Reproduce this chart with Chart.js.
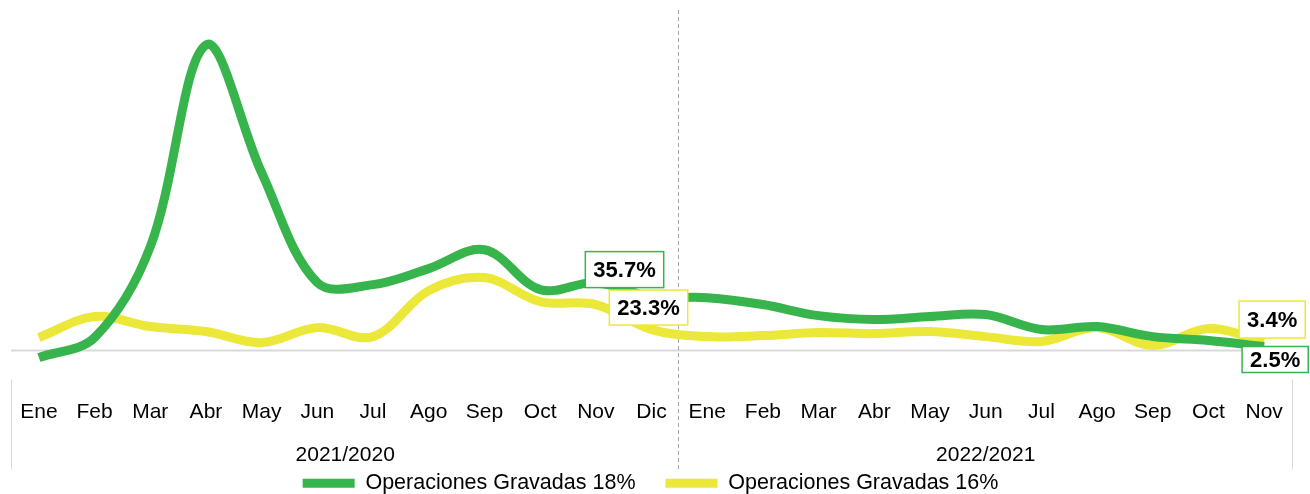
<!DOCTYPE html>
<html>
<head>
<meta charset="utf-8">
<script src="https://cdn.jsdelivr.net/npm/chart.js@4.4.1/dist/chart.umd.min.js"></script>
<style>
  html, body { margin: 0; padding: 0; background: #fff; }
  #wrap { width: 1310px; height: 494px; position: relative; }
</style>
</head>
<body>
<div id="wrap"><canvas id="chart"></canvas></div>
<script>
// --- Data ---
const months = ["Ene", "Feb", "Mar", "Abr", "May", "Jun", "Jul", "Ago", "Sep", "Oct", "Nov", "Dic",
                "Ene", "Feb", "Mar", "Abr", "May", "Jun", "Jul", "Ago", "Sep", "Oct", "Nov"];
const groupLabels = ["2021/2020", "2022/2021"];
const groupSizes = [12, 11];

const gravadas18 = [-4.7, 8.7, 69.3, 204, 118.7, 45.3, 44, 54.7, 67.3, 40.7, 45.3, 36,
                    35.3, 30.7, 23.3, 20.7, 22.7, 24, 14, 16, 9.3, 6.7, 2.7];
const gravadas16 = [8.7, 22.7, 16, 12.7, 5.3, 15.3, 9.3, 40, 48.7, 32.7, 30.7, 14,
                    9.3, 10, 12, 11.3, 12.7, 9.3, 6, 15.3, 3.3, 14.7, 6];

// value labels shown on the chart (only Dic and last month)
const labels18 = [null, null, null, null, null, null, null, null, null, null, null, "35.7%",
                  null, null, null, null, null, null, null, null, null, null, "2.5%"];
const labels16 = [null, null, null, null, null, null, null, null, null, null, null, "23.3%",
                  null, null, null, null, null, null, null, null, null, null, "3.4%"];

const GREEN = "#37b44b";
const YELLOW = "#ebe83a";
const FONT = "'Liberation Sans', Arial, sans-serif";

// label box placement relative to the point: dx, dy, box height
const labelOffsets = {
  0: { 11: [-27, -27, 36], 22: [11, 13, 26] },
  1: { 11: [-3, -22, 35], 22: [8, -22, 37] }
};

// --- Plugin: baseline, separators, group labels, value labels ---
const decorPlugin = {
  id: "decor",
  beforeDatasetsDraw(chart) {
    const { ctx, chartArea, scales } = chart;
    const x = scales.x, y = scales.y;
    const y0 = y.getPixelForValue(0);
    ctx.save();
    // zero line
    ctx.strokeStyle = "#d9d9d9";
    ctx.lineWidth = 2;
    ctx.beginPath();
    ctx.moveTo(chartArea.left, y0);
    ctx.lineTo(chartArea.right, y0);
    ctx.stroke();
    // outer separators
    const sepBottom = chartArea.bottom + 90;
    ctx.lineWidth = 1;
    ctx.strokeStyle = "#d9d9d9";
    [chartArea.left, chartArea.right].forEach(px => {
      ctx.beginPath();
      ctx.moveTo(px + 0.5, chartArea.bottom);
      ctx.lineTo(px + 0.5, sepBottom);
      ctx.stroke();
    });
    // dashed separator between groups
    let idx = 0;
    const mids = [];
    const step = x.width / months.length;
    groupSizes.forEach((n, g) => {
      const a = x.getPixelForValue(idx) - step / 2;
      const b = x.getPixelForValue(idx + n - 1) + step / 2;
      mids.push((a + b) / 2);
      idx += n;
      if (g < groupSizes.length - 1) {
        ctx.strokeStyle = "#a6a6a6";
        ctx.setLineDash([4, 3]);
        ctx.beginPath();
        ctx.moveTo(Math.round(b) - 0.5, chartArea.top);
        ctx.lineTo(Math.round(b) - 0.5, sepBottom);
        ctx.stroke();
        ctx.setLineDash([]);
      }
    });
    // group labels
    ctx.fillStyle = "#000";
    ctx.font = "21px " + FONT;
    ctx.textAlign = "center";
    ctx.textBaseline = "middle";
    groupLabels.forEach((t, i) => ctx.fillText(t, mids[i], chartArea.bottom + 76));
    ctx.restore();
  },
  afterDatasetsDraw(chart) {
    const { ctx } = chart;
    const sets = [labels18, labels16];
    ctx.save();
    ctx.font = "bold 22px " + FONT;
    ctx.textAlign = "center";
    ctx.textBaseline = "middle";
    sets.forEach((arr, di) => {
      const meta = chart.getDatasetMeta(di);
      const color = chart.data.datasets[di].borderColor;
      arr.forEach((txt, i) => {
        if (!txt) return;
        const pt = meta.data[i];
        const off = labelOffsets[di][i] || [0, -24, 35];
        const cx = pt.x + off[0], cy = pt.y + off[1];
        const w = ctx.measureText(txt).width + 16, h = off[2];
        ctx.fillStyle = "#fff";
        ctx.fillRect(cx - w / 2, cy - h / 2, w, h);
        ctx.strokeStyle = color;
        ctx.lineWidth = 1.5;
        ctx.strokeRect(cx - w / 2, cy - h / 2, w, h);
        ctx.fillStyle = "#000";
        ctx.fillText(txt, cx, cy + 1);
      });
    });
    ctx.restore();
  }
};

new Chart(document.getElementById("chart"), {
  type: "line",
  data: {
    labels: months,
    datasets: [
      {
        label: "Operaciones Gravadas 18%",
        data: gravadas18,
        borderColor: GREEN,
        backgroundColor: GREEN,
        borderWidth: 9,
        pointRadius: 0,
        tension: 0.35
      },
      {
        label: "Operaciones Gravadas 16%",
        data: gravadas16,
        borderColor: YELLOW,
        backgroundColor: YELLOW,
        borderWidth: 9,
        pointRadius: 0,
        tension: 0.35
      }
    ]
  },
  options: {
    responsive: true,
    maintainAspectRatio: false,
    animation: false,
    clip: false,
    layout: { padding: { left: 9, right: 18, top: 10, bottom: -10 } },
    plugins: {
      tooltip: { enabled: false },
      legend: {
        position: "bottom",
        labels: {
          boxWidth: 52,
          boxHeight: 9,
          padding: 30,
          color: "#000",
          font: { family: FONT, size: 21.5 },
          generateLabels: chart => Chart.defaults.plugins.legend.labels.generateLabels(chart)
            .map(l => ({ ...l, lineWidth: 0 }))
        }
      }
    },
    scales: {
      x: {
        offset: true,
        grid: { display: false, drawTicks: false },
        border: { display: false },
        ticks: {
          color: "#000",
          padding: 20,
          maxRotation: 0,
          autoSkip: false,
          font: { family: FONT, size: 21 }
        },
        afterFit: scale => { scale.height = 63; }
      },
      y: {
        min: -19.33,
        max: 227.33,
        display: true,
        grid: { display: false, drawTicks: false },
        border: { display: false },
        ticks: { display: false }
      }
    }
  },
  plugins: [decorPlugin]
});
</script>
</body>
</html>
